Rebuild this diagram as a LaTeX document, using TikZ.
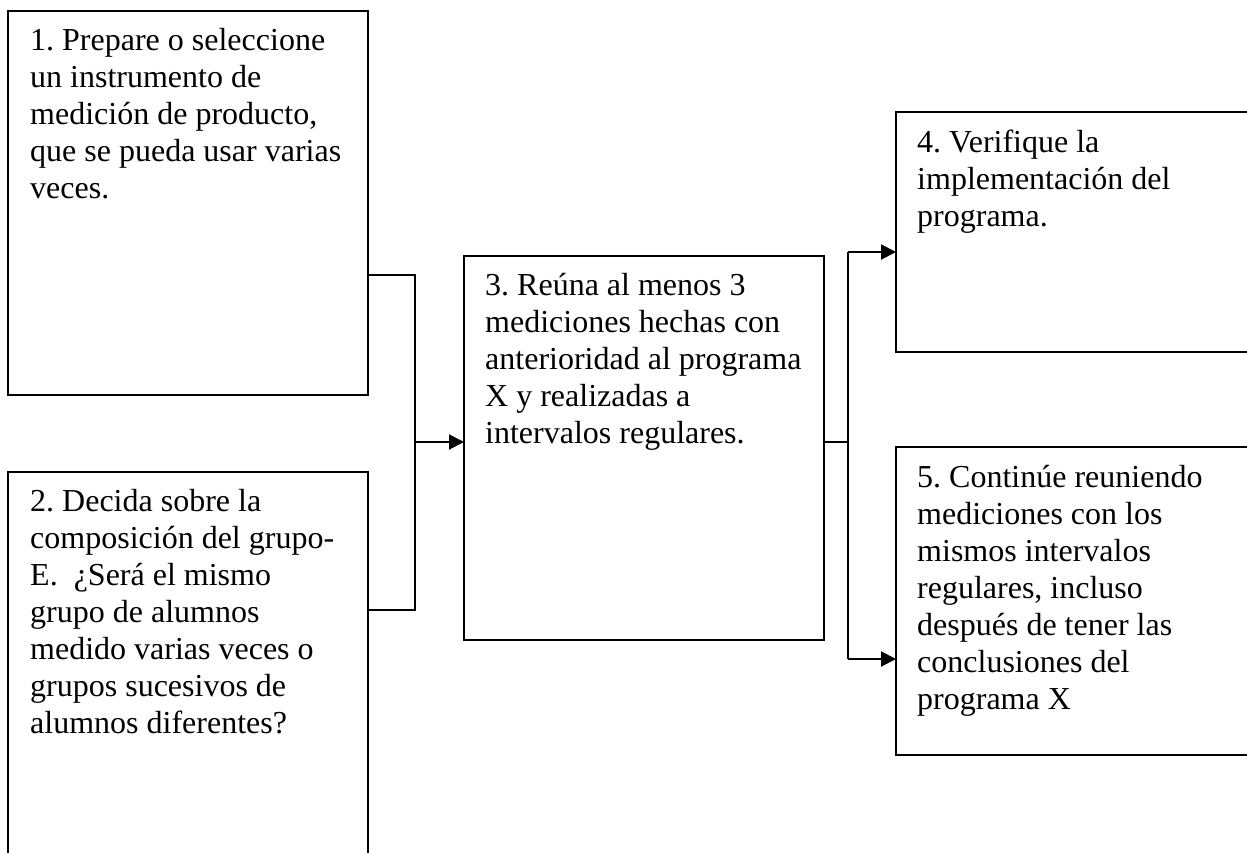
\documentclass[tikz,border=0pt]{standalone}
\usepackage{fontspec}
\setmainfont{Liberation Serif}
\usetikzlibrary{arrows.meta,calc}
\begin{document}
\frenchspacing
\begin{tikzpicture}[x=1pt,y=-1pt,
  box/.style={draw, line width=2pt, rectangle, anchor=north west,
              inner sep=0pt, outer sep=0pt},
  txt/.style={anchor=base west, inner sep=0pt,
              font=\fontsize{32}{37}\selectfont},
  link/.style={line width=2pt},
  arr/.style={link, -{Triangle[length=15pt,width=15pt]}}]
\useasboundingbox (0,0) rectangle (1247,852);
\clip (0,0) rectangle (1247,852);

% step boxes
\node[box, minimum width=360pt, minimum height=384pt] (b1) at (8,11) {};
\node[box, minimum width=360pt, minimum height=440pt] (b2) at (8,472) {};
\node[box, minimum width=360pt, minimum height=384pt] (b3) at (464,256) {};
\node[box, minimum width=404pt, minimum height=240pt] (b4) at (896,112) {};
\node[box, minimum width=404pt, minimum height=308pt] (b5) at (896,447) {};

% step texts
\node[txt] (t1) at ($(b1.north west)+(22,39)$) {\parbox[t]{340pt}{\raggedright
  1. Prepare o seleccione\\
  un instrumento de\\
  medición de producto,\\
  que se pueda usar varias\\
  veces.}};
\node[txt] (t2) at ($(b2.north west)+(22,39)$) {\parbox[t]{340pt}{\raggedright
  2. Decida sobre la\\
  composición del grupo-\\
  E.\ \ ¿Será el mismo\\
  grupo de alumnos\\
  medido varias veces o\\
  grupos sucesivos de\\
  alumnos diferentes?}};
\node[txt] (t3) at ($(b3.north west)+(21,39)$) {\parbox[t]{340pt}{\raggedright
  3. Reúna al menos 3\\
  mediciones hechas con\\
  anterioridad al programa\\
  X y realizadas a\\
  intervalos regulares.}};
\node[txt] (t4) at ($(b4.north west)+(21,40)$) {\parbox[t]{340pt}{\raggedright
  4. Verifique la\\
  implementación del\\
  programa.}};
\node[txt] (t5) at ($(b5.north west)+(21,40)$) {\parbox[t]{340pt}{\raggedright
  5. Continúe reuniendo\\
  mediciones con los\\
  mismos intervalos\\
  regulares, incluso\\
  después de tener las\\
  conclusiones del\\
  programa X}};

% joining lines into step 3
\coordinate (ja) at (415,275);
\coordinate (jb) at (415,610);
\coordinate (jm) at (415,442);
\draw[link] (b1.east |- ja) -- (ja) -- (jb) -- (b2.east |- jb);
\draw[arr] (jm) -- (b3.west |- jm);

% split from step 3 to steps 4 and 5
\coordinate (s) at (848,442);
\coordinate (s4) at (848,252);
\coordinate (s5) at (848,659);
\draw[link] (b3.east |- s) -- (s);
\draw[link] (s4) -- (s5);
\draw[arr] (s4) -- (b4.west |- s4);
\draw[arr] (s5) -- (b5.west |- s5);
\end{tikzpicture}
\end{document}
